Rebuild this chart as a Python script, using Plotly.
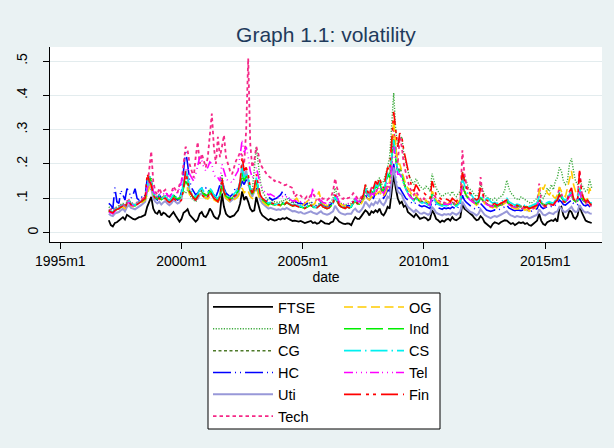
import plotly.graph_objects as go

# ---------------- data (monthly, 1997m1 .. 2016m12) ----------------
start_month = 444  # Stata %tm code of 1997m1
tick_vals = [420, 480, 540, 600, 660]
tick_text = ["1995m1", "2000m1", "2005m1", "2010m1", "2015m1"]
ytick_vals = [0, 0.1, 0.2, 0.3, 0.4, 0.5]
ytick_text = ["", ".1", ".2", ".3", ".4", ".5"]
ytick_zero_text = ["0"]

FTSE = [
    .036, .022, .018, .028, .030, .034, .040, .045, .038, .052, .048, .042,
    .040, .038, .042, .045, .046, .050, .052, .075, .092, .104, .070, .058,
    .055, .065, .050, .058, .055, .048, .045, .052, .060, .050, .042, .032,
    .040, .058, .062, .068, .052, .046, .040, .032, .038, .055, .060, .048,
    .045, .055, .070, .062, .048, .042, .040, .055, .114, .075, .055, .048,
    .045, .048, .050, .058, .065, .085, .120, .095, .105, .090, .070, .062,
    .065, .104, .080, .060, .050, .045, .040, .036, .040, .038, .035, .036,
    .040, .038, .042, .040, .044, .040, .036, .034, .035, .033, .032, .034,
    .030, .028, .030, .032, .034, .028, .030, .026, .028, .035, .030, .027,
    .026, .025, .030, .032, .045, .040, .032, .028, .026, .025, .027, .026,
    .022, .035, .045, .040, .040, .048, .055, .065, .060, .050, .062, .058,
    .065, .060, .070, .055, .050, .060, .075, .070, .120, .170, .130, .100,
    .085, .090, .075, .080, .060, .055, .050, .045, .055, .048, .040, .042,
    .045, .042, .036, .040, .065, .055, .040, .036, .030, .035, .032, .038,
    .040, .035, .045, .038, .036, .040, .045, .085, .070, .065, .060, .055,
    .050, .042, .036, .038, .048, .042, .030, .025, .020, .015, .025, .030,
    .028, .025, .030, .032, .036, .035, .030, .025, .028, .022, .026, .030,
    .028, .030, .025, .028, .022, .020, .025, .030, .035, .055, .035, .025,
    .022, .030, .032, .036, .034, .040, .032, .070, .075, .050, .040, .045,
    .065, .060, .045, .040, .050, .080, .060, .045, .035, .032, .030, .028,
]

BM = [
    .075, .070, .068, .072, .075, .080, .082, .085, .080, .090, .095, .088,
    .085, .082, .088, .090, .092, .095, .100, .120, .150, .160, .120, .110,
    .105, .110, .100, .105, .110, .100, .095, .100, .110, .105, .100, .098,
    .100, .120, .115, .125, .110, .100, .095, .090, .098, .110, .120, .110,
    .100, .105, .120, .115, .100, .095, .090, .100, .170, .120, .105, .100,
    .095, .100, .105, .110, .115, .130, .160, .140, .170, .160, .130, .120,
    .180, .250, .200, .150, .120, .110, .100, .095, .098, .092, .090, .088,
    .090, .088, .095, .092, .100, .095, .088, .085, .090, .085, .082, .080,
    .075, .078, .080, .085, .090, .080, .075, .078, .085, .090, .080, .078,
    .080, .082, .090, .100, .130, .110, .090, .085, .082, .080, .085, .083,
    .085, .095, .100, .090, .095, .100, .110, .140, .125, .110, .120, .115,
    .140, .150, .160, .140, .150, .170, .190, .220, .300, .407, .300, .250,
    .270, .280, .230, .200, .180, .160, .150, .140, .157, .145, .135, .130,
    .125, .135, .130, .120, .172, .150, .130, .120, .110, .105, .110, .115,
    .115, .110, .120, .110, .105, .115, .120, .177, .160, .150, .130, .125,
    .120, .110, .105, .115, .140, .128, .110, .105, .100, .098, .095, .100,
    .095, .100, .105, .110, .125, .153, .130, .115, .110, .100, .098, .095,
    .104, .100, .095, .090, .088, .085, .090, .095, .100, .120, .110, .100,
    .110, .130, .120, .140, .125, .150, .160, .190, .180, .150, .140, .150,
    .200, .216, .180, .150, .140, .160, .140, .130, .120, .125, .155, .130,
]

CG = [
    .064, .060, .058, .066, .068, .071, .076, .081, .074, .087, .091, .083,
    .081, .079, .085, .087, .091, .095, .099, .135, .165, .148, .114, .104,
    .099, .106, .097, .101, .105, .097, .093, .099, .110, .103, .099, .101,
    .106, .135, .160, .148, .122, .113, .104, .100, .108, .118, .123, .115,
    .110, .112, .124, .117, .106, .101, .097, .106, .145, .120, .108, .104,
    .100, .102, .108, .114, .122, .145, .180, .155, .170, .155, .127, .114,
    .127, .155, .127, .106, .098, .092, .088, .084, .087, .084, .082, .080,
    .083, .081, .087, .084, .089, .085, .081, .079, .081, .078, .076, .077,
    .073, .072, .075, .079, .081, .076, .072, .073, .079, .084, .076, .073,
    .071, .073, .079, .085, .104, .091, .081, .076, .073, .071, .075, .073,
    .075, .087, .093, .085, .084, .091, .104, .128, .114, .104, .122, .118,
    .138, .132, .148, .128, .122, .142, .172, .162, .218, .275, .218, .178,
    .190, .175, .150, .130, .120, .110, .102, .096, .104, .098, .092, .090,
    .092, .089, .084, .082, .114, .102, .090, .086, .084, .081, .084, .082,
    .084, .082, .088, .084, .080, .086, .092, .138, .120, .108, .102, .098,
    .096, .090, .086, .090, .104, .096, .088, .084, .082, .080, .078, .080,
    .078, .080, .083, .085, .088, .094, .085, .081, .079, .076, .079, .078,
    .077, .079, .075, .077, .073, .075, .077, .080, .083, .100, .089, .083,
    .081, .085, .088, .085, .083, .091, .095, .115, .105, .095, .092, .097,
    .108, .114, .097, .092, .094, .125, .102, .094, .090, .092, .087, .084,
]

HC = [
    .085, .080, .070, .131, .090, .085, .124, .110, .095, .128, .120, .100,
    .110, .128, .100, .095, .105, .100, .110, .155, .140, .120, .110, .100,
    .095, .110, .100, .105, .100, .095, .090, .100, .110, .100, .095, .098,
    .120, .180, .240, .200, .150, .130, .120, .110, .115, .125, .130, .125,
    .130, .120, .125, .115, .110, .105, .120, .140, .158, .130, .115, .110,
    .105, .110, .120, .133, .125, .130, .150, .140, .155, .140, .120, .110,
    .120, .130, .115, .105, .100, .095, .090, .104, .100, .095, .098, .100,
    .105, .110, .120, .112, .108, .100, .095, .090, .092, .088, .085, .086,
    .082, .080, .085, .088, .090, .085, .080, .078, .082, .086, .080, .078,
    .076, .078, .082, .088, .100, .092, .085, .080, .078, .076, .078, .077,
    .078, .088, .092, .085, .082, .088, .095, .110, .100, .095, .105, .100,
    .115, .110, .120, .105, .100, .110, .125, .120, .160, .200, .160, .130,
    .130, .120, .110, .100, .095, .090, .085, .082, .088, .082, .078, .076,
    .078, .076, .072, .070, .095, .088, .078, .072, .070, .068, .072, .070,
    .072, .070, .075, .072, .068, .075, .080, .109, .095, .088, .082, .078,
    .075, .070, .068, .072, .085, .078, .070, .066, .064, .062, .064, .066,
    .064, .066, .070, .072, .075, .080, .072, .068, .066, .064, .066, .065,
    .064, .066, .062, .065, .060, .062, .065, .068, .070, .085, .075, .070,
    .072, .075, .078, .076, .074, .080, .082, .095, .090, .082, .080, .085,
    .090, .095, .085, .080, .082, .100, .088, .080, .078, .082, .076, .074,
]

Uti = [
    .055, .050, .048, .055, .058, .060, .065, .070, .062, .075, .080, .072,
    .070, .068, .072, .075, .080, .085, .090, .120, .150, .130, .100, .090,
    .085, .090, .082, .088, .092, .085, .080, .085, .095, .090, .085, .088,
    .100, .140, .177, .160, .120, .110, .100, .095, .100, .110, .115, .105,
    .100, .105, .115, .110, .100, .095, .090, .100, .140, .115, .100, .095,
    .090, .095, .100, .105, .110, .140, .200, .160, .180, .150, .120, .105,
    .120, .150, .120, .095, .085, .080, .075, .070, .072, .070, .068, .066,
    .068, .066, .070, .068, .072, .068, .064, .062, .063, .060, .058, .060,
    .056, .055, .058, .060, .062, .058, .055, .054, .058, .062, .056, .054,
    .052, .054, .058, .062, .078, .068, .060, .056, .054, .052, .055, .054,
    .055, .065, .070, .062, .060, .066, .075, .090, .082, .075, .085, .080,
    .090, .085, .095, .085, .080, .090, .105, .100, .150, .190, .150, .120,
    .115, .110, .095, .085, .075, .070, .065, .060, .066, .060, .056, .055,
    .058, .055, .052, .055, .075, .068, .058, .055, .052, .050, .054, .052,
    .054, .052, .058, .055, .052, .056, .062, .090, .078, .070, .065, .060,
    .058, .054, .050, .055, .068, .060, .052, .048, .045, .042, .046, .048,
    .046, .048, .052, .055, .058, .062, .055, .050, .048, .045, .048, .046,
    .045, .048, .044, .046, .042, .044, .046, .050, .052, .068, .058, .052,
    .050, .055, .058, .056, .054, .060, .062, .075, .070, .062, .060, .064,
    .070, .075, .065, .060, .062, .080, .070, .062, .058, .060, .056, .055,
]

Tech = [
    .065, .068, .062, .070, .072, .075, .080, .085, .078, .092, .095, .088,
    .082, .080, .088, .090, .095, .100, .105, .130, .180, .237, .150, .120,
    .110, .130, .115, .120, .125, .110, .100, .115, .135, .125, .115, .140,
    .150, .200, .250, .240, .200, .180, .160, .220, .264, .200, .230, .210,
    .190, .220, .280, .347, .250, .200, .279, .220, .250, .284, .220, .200,
    .180, .170, .190, .210, .220, .235, .225, .200, .300, .508, .260, .190,
    .210, .250, .230, .200, .190, .180, .172, .165, .160, .160, .150, .153,
    .150, .145, .140, .138, .140, .135, .133, .130, .104, .110, .105, .108,
    .100, .098, .105, .100, .110, .114, .105, .100, .095, .104, .098, .100,
    .095, .100, .105, .120, .158, .130, .110, .100, .098, .104, .100, .102,
    .105, .115, .110, .100, .095, .105, .110, .125, .120, .115, .130, .125,
    .110, .130, .150, .120, .110, .120, .140, .130, .200, .300, .250, .200,
    .280, .250, .200, .170, .150, .130, .120, .110, .120, .110, .100, .090,
    .100, .095, .090, .085, .120, .110, .100, .095, .090, .085, .088, .085,
    .085, .090, .095, .085, .080, .085, .090, .240, .170, .140, .120, .110,
    .100, .090, .085, .095, .162, .110, .090, .085, .080, .075, .078, .080,
    .075, .080, .085, .080, .090, .100, .085, .080, .075, .070, .075, .072,
    .070, .072, .068, .070, .065, .068, .070, .072, .080, .143, .090, .075,
    .075, .080, .085, .080, .078, .090, .100, .133, .110, .095, .090, .100,
    .120, .110, .095, .090, .100, .180, .120, .095, .085, .090, .080, .078,
]

OG = [
    .060, .062, .058, .065, .068, .070, .072, .075, .070, .080, .082, .078,
    .075, .080, .085, .082, .088, .090, .095, .110, .130, .140, .110, .100,
    .095, .100, .098, .105, .100, .095, .090, .098, .105, .100, .095, .100,
    .110, .120, .125, .130, .110, .105, .100, .098, .105, .115, .110, .105,
    .100, .098, .105, .100, .095, .092, .090, .100, .130, .110, .100, .095,
    .090, .092, .095, .100, .105, .120, .130, .115, .125, .120, .105, .100,
    .120, .140, .110, .095, .090, .085, .080, .078, .082, .080, .085, .082,
    .080, .078, .085, .082, .090, .085, .080, .085, .095, .100, .090, .085,
    .080, .085, .090, .095, .085, .080, .085, .100, .120, .095, .085, .080,
    .078, .080, .085, .090, .105, .095, .085, .082, .080, .078, .075, .080,
    .080, .085, .090, .085, .080, .085, .095, .110, .100, .095, .105, .100,
    .110, .115, .120, .110, .105, .115, .130, .150, .220, .330, .250, .200,
    .200, .180, .160, .140, .130, .120, .110, .105, .110, .100, .095, .090,
    .090, .095, .088, .085, .120, .110, .095, .090, .085, .080, .085, .082,
    .085, .090, .095, .088, .085, .090, .095, .140, .120, .110, .100, .095,
    .090, .085, .080, .085, .100, .095, .085, .080, .078, .075, .072, .075,
    .072, .075, .078, .080, .085, .090, .080, .075, .072, .070, .068, .070,
    .068, .070, .065, .068, .062, .065, .068, .070, .080, .120, .138, .125,
    .140, .115, .110, .120, .105, .100, .110, .133, .120, .110, .105, .130,
    .150, .180, .140, .120, .110, .130, .110, .100, .095, .100, .130, .110,
]

Ind = [
    .062, .058, .056, .064, .066, .070, .074, .080, .072, .086, .090, .082,
    .080, .078, .084, .086, .090, .094, .098, .130, .160, .150, .112, .102,
    .098, .104, .096, .100, .104, .096, .092, .098, .108, .102, .098, .100,
    .104, .130, .150, .140, .118, .110, .102, .098, .106, .116, .120, .112,
    .108, .110, .122, .115, .104, .100, .095, .104, .140, .118, .106, .102,
    .098, .100, .106, .112, .120, .140, .175, .150, .165, .150, .124, .112,
    .124, .150, .124, .104, .096, .090, .086, .082, .085, .082, .080, .079,
    .081, .079, .085, .082, .087, .083, .079, .077, .079, .076, .074, .075,
    .072, .071, .074, .078, .080, .075, .071, .072, .078, .083, .075, .072,
    .070, .072, .078, .084, .102, .090, .080, .075, .072, .070, .074, .072,
    .074, .086, .092, .084, .083, .090, .102, .125, .112, .102, .120, .115,
    .135, .130, .145, .125, .120, .140, .170, .160, .215, .270, .215, .175,
    .180, .170, .145, .128, .118, .108, .100, .094, .102, .096, .090, .088,
    .090, .087, .082, .080, .112, .100, .088, .084, .082, .079, .082, .080,
    .082, .080, .086, .082, .078, .084, .090, .135, .118, .106, .100, .096,
    .094, .088, .084, .088, .102, .094, .086, .082, .080, .078, .076, .078,
    .076, .078, .081, .083, .086, .092, .083, .079, .077, .074, .077, .076,
    .075, .077, .073, .075, .071, .073, .075, .078, .081, .098, .087, .081,
    .079, .083, .086, .083, .081, .089, .093, .112, .102, .093, .090, .095,
    .106, .112, .095, .090, .092, .122, .100, .092, .088, .090, .085, .082,
]

CS = [
    .065, .062, .060, .068, .070, .072, .078, .082, .075, .088, .092, .085,
    .082, .080, .085, .088, .092, .095, .100, .140, .170, .150, .115, .105,
    .100, .108, .098, .102, .106, .098, .094, .100, .112, .105, .100, .104,
    .110, .150, .180, .165, .130, .120, .110, .105, .112, .125, .130, .120,
    .115, .118, .130, .122, .110, .105, .100, .110, .150, .125, .112, .108,
    .104, .106, .112, .120, .128, .150, .190, .160, .175, .160, .130, .118,
    .130, .160, .130, .110, .100, .095, .090, .086, .088, .085, .083, .082,
    .084, .082, .088, .085, .090, .086, .082, .080, .082, .079, .077, .078,
    .074, .073, .076, .080, .082, .077, .073, .074, .080, .085, .077, .074,
    .072, .074, .080, .086, .105, .092, .082, .077, .074, .072, .076, .074,
    .076, .088, .094, .086, .085, .092, .105, .130, .115, .105, .125, .120,
    .140, .135, .150, .130, .125, .145, .175, .165, .220, .270, .220, .180,
    .170, .165, .140, .125, .115, .105, .098, .092, .100, .094, .088, .086,
    .088, .085, .080, .078, .110, .098, .086, .082, .080, .077, .080, .078,
    .080, .078, .084, .080, .076, .082, .088, .160, .140, .120, .110, .115,
    .105, .098, .090, .094, .110, .100, .092, .100, .098, .090, .086, .088,
    .085, .087, .090, .092, .095, .100, .090, .086, .084, .080, .083, .082,
    .080, .083, .078, .080, .076, .078, .080, .083, .086, .105, .092, .086,
    .084, .088, .090, .088, .086, .094, .098, .118, .108, .098, .094, .100,
    .112, .118, .100, .094, .096, .130, .105, .096, .092, .094, .088, .086,
]

Tel = [
    .060, .058, .055, .062, .065, .068, .072, .078, .070, .085, .088, .080,
    .078, .080, .085, .088, .092, .095, .100, .130, .160, .150, .120, .110,
    .105, .115, .108, .112, .118, .110, .105, .112, .125, .120, .115, .130,
    .150, .170, .180, .190, .170, .160, .150, .170, .200, .220, .210, .190,
    .180, .190, .206, .200, .170, .160, .160, .150, .200, .180, .160, .150,
    .150, .145, .160, .170, .180, .220, .270, .230, .250, .220, .180, .160,
    .170, .190, .160, .140, .130, .120, .115, .110, .112, .108, .105, .104,
    .102, .100, .105, .100, .104, .100, .095, .092, .094, .090, .088, .090,
    .085, .088, .090, .095, .100, .130, .100, .092, .090, .095, .088, .086,
    .084, .086, .090, .095, .115, .100, .090, .086, .084, .082, .085, .084,
    .085, .095, .100, .092, .090, .095, .105, .120, .110, .105, .115, .110,
    .125, .120, .135, .120, .115, .125, .145, .140, .200, .250, .210, .170,
    .170, .160, .140, .125, .115, .105, .100, .095, .100, .095, .090, .088,
    .088, .085, .082, .080, .105, .095, .088, .085, .082, .080, .083, .082,
    .082, .085, .088, .082, .080, .085, .090, .140, .115, .105, .098, .094,
    .090, .085, .082, .086, .100, .092, .085, .082, .080, .078, .076, .078,
    .076, .078, .080, .082, .085, .090, .082, .078, .076, .074, .076, .075,
    .074, .076, .072, .074, .070, .072, .074, .076, .080, .095, .085, .080,
    .078, .082, .085, .082, .080, .088, .092, .110, .100, .092, .090, .095,
    .105, .110, .095, .090, .092, .120, .100, .092, .088, .090, .085, .082,
]

Fin = [
    .065, .060, .058, .065, .068, .070, .075, .078, .072, .085, .090, .082,
    .080, .078, .082, .085, .090, .095, .100, .172, .150, .140, .110, .100,
    .095, .100, .092, .098, .100, .092, .088, .092, .100, .095, .090, .088,
    .095, .130, .180, .150, .120, .110, .100, .095, .105, .115, .110, .105,
    .100, .105, .120, .110, .100, .095, .090, .105, .160, .120, .105, .100,
    .095, .100, .105, .110, .120, .150, .220, .180, .190, .170, .130, .115,
    .130, .170, .140, .110, .100, .095, .090, .085, .088, .085, .082, .080,
    .082, .080, .085, .082, .088, .085, .080, .078, .080, .078, .075, .076,
    .072, .070, .075, .078, .080, .075, .070, .072, .078, .082, .075, .072,
    .070, .072, .078, .085, .110, .095, .080, .075, .072, .070, .075, .072,
    .075, .090, .095, .085, .085, .095, .110, .140, .120, .110, .135, .130,
    .150, .140, .160, .140, .130, .160, .190, .180, .260, .352, .300, .250,
    .290, .280, .240, .210, .180, .150, .130, .120, .140, .130, .120, .115,
    .115, .110, .105, .100, .150, .130, .110, .105, .100, .095, .100, .098,
    .095, .090, .100, .095, .090, .100, .110, .175, .150, .130, .120, .115,
    .110, .100, .095, .100, .130, .115, .100, .095, .090, .085, .082, .085,
    .080, .082, .085, .088, .090, .095, .085, .080, .078, .075, .080, .078,
    .075, .078, .072, .075, .070, .072, .075, .078, .080, .095, .085, .080,
    .078, .080, .085, .082, .080, .090, .095, .110, .100, .090, .088, .095,
    .120, .130, .100, .090, .095, .180, .120, .100, .090, .095, .085, .080,
]

months = [start_month + i for i in range(len(FTSE))]

series_names = ["FTSE", "BM", "CG", "HC", "Uti", "Tech", "OG", "Ind", "CS", "Tel", "Fin"]
series_values = [FTSE, BM, CG, HC, Uti, Tech, OG, Ind, CS, Tel, Fin]

# ---------------- styles ----------------
styles = {
    "FTSE": dict(color="#000000", width=1.8, dash="solid"),
    "BM":   dict(color="#3DAA3D", width=1.4, dash="1.2px,1.5px"),
    "CG":   dict(color="#4E7A2A", width=1.5, dash="3px,2.5px"),
    "HC":   dict(color="#0000FF", width=1.6, dash="18px,4px,1px,4px,1px,4px"),
    "Uti":  dict(color="#9898D8", width=2.0, dash="solid"),
    "Tech": dict(color="#F52887", width=1.8, dash="3.5px,3px"),
    "OG":   dict(color="#FFCC00", width=1.6, dash="9px,4.5px"),
    "Ind":  dict(color="#00EE00", width=1.6, dash="17px,5px"),
    "CS":   dict(color="#00F0F0", width=1.6, dash="17px,4px,1.5px,4px"),
    "Tel":  dict(color="#FF00FF", width=1.6, dash="9px,3px,1px,4px,1px,4px,1px,3px"),
    "Fin":  dict(color="#FF0000", width=1.6, dash="17px,5px,3px,4px,3px,5px"),
}

fig = go.Figure()
n = len(series_names)
for i, (name, vals) in enumerate(zip(series_names, series_values)):
    fig.add_trace(go.Scatter(
        x=months, y=vals, mode="lines", name=name,
        line=styles[name],
        legend="legend" if i < 6 else "legend2",
        # the last (top-most) series sits on the overlaid axis that carries the "0" label
        yaxis="y2" if i == n - 1 else "y",
        hoverinfo="skip",
    ))

BG = "#EAF2F3"
FONT = "Arial, Liberation Sans, Helvetica, sans-serif"
YRANGE = [-0.0274, 0.541]
LEG_Y = (242 - 291) / 195

fig.update_layout(
    width=614, height=448,
    margin=dict(l=50, r=12, t=47, b=206),
    paper_bgcolor=BG, plot_bgcolor="#FFFFFF",
    font=dict(family=FONT, size=14, color="#000000"),
    title=dict(text="Graph 1.1: volatility", x=0.5, xref="paper", xanchor="center",
               y=1 - 35 / 448, yref="container", yanchor="middle",
               font=dict(family=FONT, size=21, color="#1F3B5C")),
    xaxis=dict(range=[414.9, 688.1], tickvals=tick_vals, ticktext=tick_text,
               showgrid=False, zeroline=False, showline=True, linecolor="#000000",
               linewidth=1, ticks="outside", ticklen=6, tickcolor="#000000",
               tickfont=dict(size=14),
               title=dict(text="date", font=dict(size=14), standoff=2)),
    yaxis=dict(range=YRANGE, tickvals=ytick_vals, ticktext=ytick_text,
               showgrid=True, gridcolor="#E3ECEE", gridwidth=1,
               zeroline=False, showline=True, linecolor="#000000", linewidth=1,
               ticks="outside", ticklen=6, tickcolor="#000000",
               tickangle=-90, tickfont=dict(size=14), ticklabelstandoff=10),
    yaxis2=dict(range=YRANGE, tickvals=[0], ticktext=ytick_zero_text,
                overlaying="y", side="left", anchor="x",
                showgrid=False, zeroline=False, showline=False, ticks="",
                tickangle=-90, tickfont=dict(size=14), ticklabelstandoff=8),
    legend=dict(x=(208 - 50) / 552, xanchor="left", y=LEG_Y, yanchor="top",
                bgcolor="rgba(0,0,0,0)", borderwidth=0, itemwidth=60,
                font=dict(family=FONT, size=14.5, color="#000000"),
                tracegroupgap=0, itemclick=False, itemdoubleclick=False),
    legend2=dict(x=(339 - 50) / 552, xanchor="left", y=LEG_Y, yanchor="top",
                 bgcolor="rgba(0,0,0,0)", borderwidth=0, itemwidth=60,
                 font=dict(family=FONT, size=14.5, color="#000000"),
                 tracegroupgap=0, itemclick=False, itemdoubleclick=False),
    shapes=[dict(type="rect", xref="paper", yref="paper",
                 x0=(208 - 50) / 552, x1=(440 - 50) / 552,
                 y0=(242 - 429) / 195, y1=(242 - 293) / 195,
                 line=dict(color="#000000", width=1), fillcolor="#FFFFFF",
                 layer="below")],
    showlegend=True,
)

fig.write_html("out.html")
